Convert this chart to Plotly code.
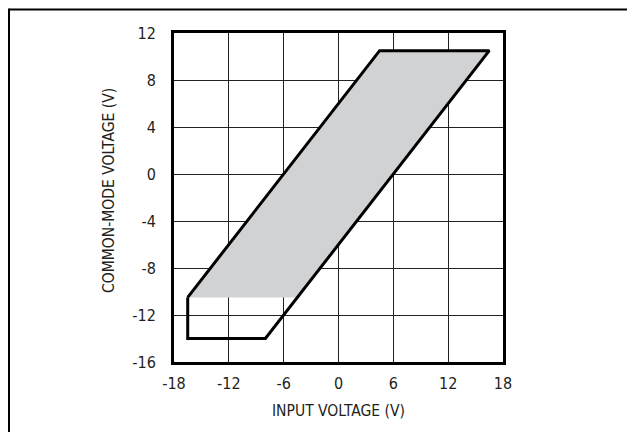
import plotly.graph_objects as go

# Data
x_ticks = [-18, -12, -6, 0, 6, 12, 18]
x_tick_labels = ["-18", "-12", "-6", "0", "6", "12", "18"]
y_ticks = [-16, -12, -8, -4, 0, 4, 8, 12]
y_tick_labels = ["-16", "-12", "-8", "-4", "0", "4", "8", "12"]

# Boundary of operating region (input voltage, common-mode voltage)
boundary_x = [-16.5, -16.5, -8, 16.5, 4.5, -16.5]
boundary_y = [-10.5, -14, -14, 10.5, 10.5, -10.5]

# Shaded region
shade_x = [-16.5, 4.5, 16.5, -4.5, -16.5]
shade_y = [-10.5, 10.5, 10.5, -10.5, -10.5]

FONT = "Liberation Sans Narrow, DejaVu Sans Condensed, Arial Narrow, sans-serif"
TXT = "#231f20"

fig = go.Figure()
fig.add_trace(go.Scatter(
    x=shade_x, y=shade_y, mode="lines", fill="toself",
    fillcolor="#d1d2d4", line=dict(width=0, color="rgba(0,0,0,0)"),
    hoverinfo="skip", showlegend=False,
))
fig.add_trace(go.Scatter(
    x=boundary_x, y=boundary_y, mode="lines",
    line=dict(color="#000000", width=3),
    showlegend=False,
))

axis_common = dict(
    showgrid=True, gridcolor="#222222", gridwidth=1,
    showline=True, linecolor="#000000", linewidth=3, mirror=True,
    zeroline=False, ticks="outside", tickcolor="rgba(0,0,0,0)",
    tickfont=dict(family=FONT, size=16, color=TXT),
    fixedrange=True, automargin=False,
)

fig.update_xaxes(range=[-18, 18], tickmode="array", tickvals=x_ticks,
                 ticktext=x_tick_labels, ticklen=5, **axis_common)
fig.update_yaxes(range=[-16, 12], tickmode="array", tickvals=y_ticks,
                 ticktext=y_tick_labels, ticklen=12, **axis_common)

# page body has an 8px margin, so the figure is offset by 8px inside the window
fig.update_layout(
    width=627, height=424,
    margin=dict(l=166, r=132, t=25, b=70),
    paper_bgcolor="white", plot_bgcolor="white",
    font=dict(family=FONT, color=TXT),
    shapes=[
        dict(type="line", xref="paper", yref="paper",
             x0=-165/329, x1=(700-166)/329, y0=1 + 23.5/329, y1=1 + 23.5/329,
             line=dict(color="#000000", width=2), layer="below"),
        dict(type="line", xref="paper", yref="paper",
             x0=-165/329, x1=-165/329, y0=1 + 24.5/329, y1=-(500-354)/329,
             line=dict(color="#000000", width=2), layer="below"),
    ],
    annotations=[
        dict(text="INPUT VOLTAGE (V)", xref="paper", yref="paper",
             x=0.5, y=-49/329, xanchor="center", yanchor="middle",
             showarrow=False, font=dict(family=FONT, size=15.5, color=TXT)),
        dict(text="COMMON-MODE VOLTAGE (V)", xref="paper", yref="paper",
             x=-65/329, y=171/329, xanchor="center", yanchor="middle",
             textangle=-90, showarrow=False,
             font=dict(family=FONT, size=15.5, color=TXT)),
    ],
)

fig.write_html("out.html")
